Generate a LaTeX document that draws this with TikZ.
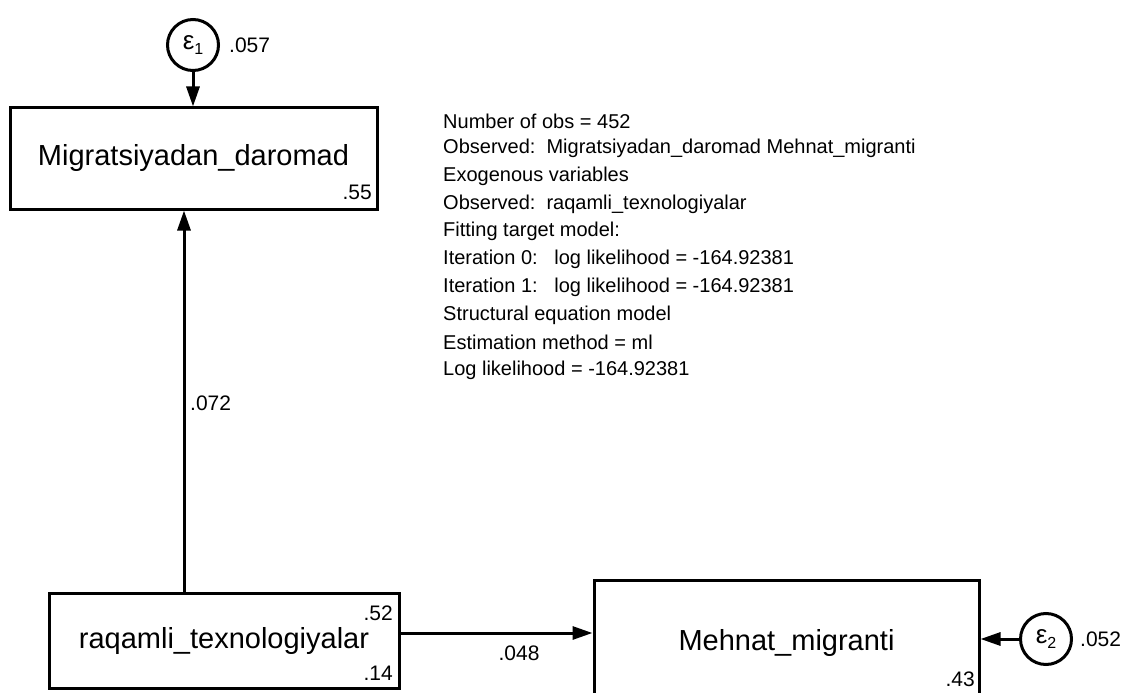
\documentclass[tikz,border=0pt]{standalone}
\usepackage{fontspec}
\setmainfont{Liberation Sans}
\usetikzlibrary{arrows.meta}
\begin{document}
\begin{tikzpicture}[x=1pt,y=-1pt,
  var/.style={draw, line width=3pt, inner sep=0pt, font=\fontsize{29}{29}\selectfont},
  err/.style={draw, circle, line width=3pt, minimum size=51pt, inner sep=0pt, font=\fontsize{26}{26}\selectfont},
  num/.style={inner sep=0pt, font=\fontsize{21}{21}\selectfont},
  info/.style={inner sep=0pt, anchor=west, font=\fontsize{20}{20}\selectfont},
  pathar/.style={line width=3pt, -{Triangle[length=20pt,width=13pt]}},
]
\useasboundingbox (0,0) rectangle (1128,693);
\fill[white] (0,0) rectangle (1128,693);
\clip (0,0) rectangle (1128,693);

\node[var, minimum width=367pt, minimum height=101pt] (migr) at (193.5,158.5) {Migratsiyadan\_daromad};
\node[var, minimum width=350pt, minimum height=95pt] (raq) at (224,640.5) {raqamli\_texnologiyalar};
\node[var, minimum width=385pt, minimum height=125pt] (meh) at (786.5,642.5) {Mehnat\_migranti};

\node[err] (e1) at (193,45) {ε\raisebox{-0.35ex}{\fontsize{16}{16}\selectfont 1}};
\node[err] (e2) at (1046,639) {ε\raisebox{-0.35ex}{\fontsize{16}{16}\selectfont 2}};

\coordinate (vx) at (184,0);
\coordinate (hy) at (0,633);

\draw[pathar] (e1.south) -- (e1.south |- migr.north);
\draw[pathar] (raq.north -| vx) -- (migr.south -| vx);
\draw[pathar] (raq.east |- hy) -- (meh.west |- hy);
\draw[pathar] (e2.west) -- (e2.west -| meh.east);

\node[num, anchor=west] (v057) at (229,45) {.057};
\node[num, anchor=east] (v55) at (372,192) {.55};
\node[num, anchor=west] (v072) at (190,403) {.072};
\node[num, anchor=east] (v52) at (393,613) {.52};
\node[num, anchor=east] (v14) at (393,673) {.14};
\node[num] (v048) at (519,653) {.048};
\node[num, anchor=east] (v43) at (975,679) {.43};
\node[num, anchor=west] (v052) at (1080,639) {.052};

\node[info] (i1) at (443,121) {Number of obs = 452};
\node[info] (i2) at (443,148.7) {Observed:\ \ Migratsiyadan\_daromad Mehnat\_migranti};
\node[info] (i3) at (443,176.4) {Exogenous variables};
\node[info] (i4) at (443,204.1) {Observed:\ \ raqamli\_texnologiyalar};
\node[info] (i5) at (443,231.8) {Fitting target model:};
\node[info] (i6) at (443,259.5) {Iteration 0:\ \ \ log likelihood = -164.92381};
\node[info] (i7) at (443,287.2) {Iteration 1:\ \ \ log likelihood = -164.92381};
\node[info] (i8) at (443,314.9) {Structural equation model};
\node[info] (i9) at (443,342.6) {Estimation method = ml};
\node[info] (i10) at (443,370.3) {Log likelihood = -164.92381};
\end{tikzpicture}
\end{document}
